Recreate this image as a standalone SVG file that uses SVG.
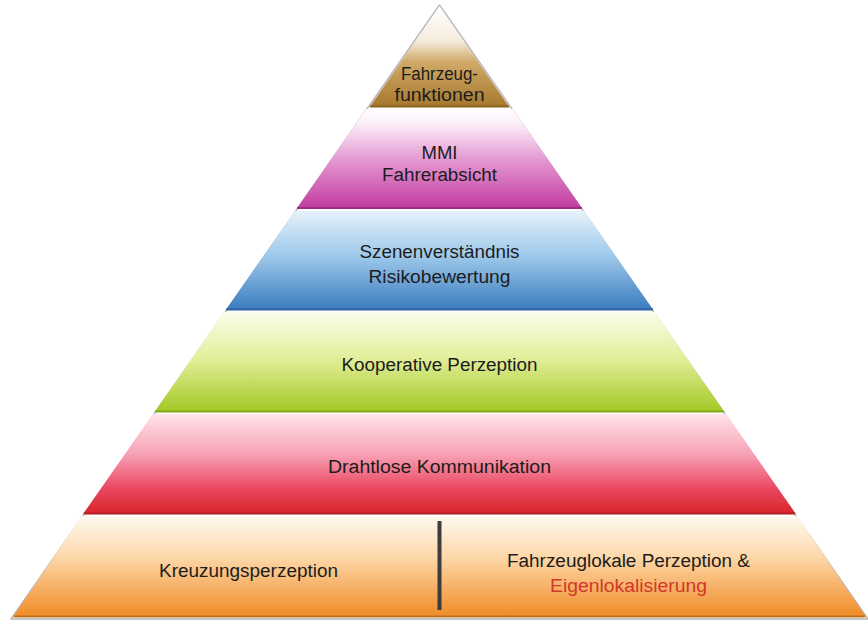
<svg xmlns="http://www.w3.org/2000/svg" width="868" height="622" viewBox="0 0 868 622">
  <defs>
    <linearGradient id="gBrown" x1="0" y1="0" x2="0" y2="1">
      <stop offset="0" stop-color="#ffffff"/>
      <stop offset="0.35" stop-color="#f4ecdc"/>
      <stop offset="0.55" stop-color="#d0aa68"/>
      <stop offset="1" stop-color="#a6782d"/>
    </linearGradient>
    <linearGradient id="gMagenta" x1="0" y1="0" x2="0" y2="1">
      <stop offset="0" stop-color="#ffffff"/>
      <stop offset="0.15" stop-color="#fbeef8"/>
      <stop offset="0.5" stop-color="#e59ad3"/>
      <stop offset="1" stop-color="#c03a9e"/>
    </linearGradient>
    <linearGradient id="gBlue" x1="0" y1="0" x2="0" y2="1">
      <stop offset="0" stop-color="#e6f1fa"/>
      <stop offset="0.45" stop-color="#9ec9ea"/>
      <stop offset="1" stop-color="#3a7bbf"/>
    </linearGradient>
    <linearGradient id="gGreen" x1="0" y1="0" x2="0" y2="1">
      <stop offset="0" stop-color="#fbfdec"/>
      <stop offset="0.45" stop-color="#e3ef9c"/>
      <stop offset="1" stop-color="#a3c925"/>
    </linearGradient>
    <linearGradient id="gRed" x1="0" y1="0" x2="0" y2="1">
      <stop offset="0" stop-color="#ffe3e9"/>
      <stop offset="0.4" stop-color="#f7a2b5"/>
      <stop offset="0.75" stop-color="#ea4660"/>
      <stop offset="1" stop-color="#d8262a"/>
    </linearGradient>
    <linearGradient id="gOrange" x1="0" y1="0" x2="0" y2="1">
      <stop offset="0" stop-color="#fff9f0"/>
      <stop offset="0.4" stop-color="#fdd8aa"/>
      <stop offset="1" stop-color="#f08b25"/>
    </linearGradient>
  </defs>
  <style>
    .outline { fill: none; stroke: #b4b4b4; stroke-width: 1.4; stroke-linejoin: round; }
    .label { font-family: "Liberation Sans", Arial, sans-serif; font-size: 18px; fill: #1c1c1c; text-anchor: middle; }
    .accent { fill: #d2382a; }
    .edge { stroke-width: 2; fill: none; }
  </style>

  <rect width="868" height="622" fill="#ffffff"/>

  <!-- outer silhouette of the pyramid -->
  <path class="outline" d="M439.5,5 L11,619 L868,619 Z"/>

  <!-- top: vehicle functions -->
  <g id="layer-fahrzeugfunktionen">
    <path d="M439.5,6 L369.7,107 L509.3,107 Z" fill="url(#gBrown)"/>
    <line class="edge" x1="370" y1="106.5" x2="509" y2="106.5" stroke="#8b6222"/>
    <text class="label" x="439.5" y="80" textLength="77" lengthAdjust="spacingAndGlyphs">Fahrzeug-</text>
    <text class="label" x="439.5" y="101" textLength="90" lengthAdjust="spacingAndGlyphs">funktionen</text>
  </g>

  <!-- MMI / driver intent -->
  <g id="layer-mmi">
    <path d="M366.3,109 L512.7,109 L582.2,208.5 L296.8,208.5 Z" fill="url(#gMagenta)"/>
    <line class="edge" x1="297" y1="208" x2="582" y2="208" stroke="#a12a82"/>
    <text class="label" x="439.5" y="159" textLength="36" lengthAdjust="spacingAndGlyphs">MMI</text>
    <text class="label" x="439.5" y="181" textLength="115" lengthAdjust="spacingAndGlyphs">Fahrerabsicht</text>
  </g>

  <!-- scene understanding / risk assessment -->
  <g id="layer-szenenverstaendnis">
    <path d="M294.9,211 L584.1,211 L653.3,310 L225.7,310 Z" fill="url(#gBlue)"/>
    <line class="edge" x1="226" y1="309.5" x2="653" y2="309.5" stroke="#2f6298"/>
    <text class="label" x="439.5" y="258" textLength="160" lengthAdjust="spacingAndGlyphs">Szenenverständnis</text>
    <text class="label" x="439.5" y="283" textLength="142" lengthAdjust="spacingAndGlyphs">Risikobewertung</text>
  </g>

  <!-- cooperative perception -->
  <g id="layer-kooperative-perzeption">
    <path d="M224.3,312 L654.7,312 L724.6,412 L154.4,412 Z" fill="url(#gGreen)"/>
    <line class="edge" x1="155" y1="411.5" x2="724" y2="411.5" stroke="#86a61c"/>
    <text class="label" x="439.5" y="371" textLength="196" lengthAdjust="spacingAndGlyphs">Kooperative Perzeption</text>
  </g>

  <!-- wireless communication -->
  <g id="layer-drahtlose-kommunikation">
    <path d="M153,414 L726,414 L795.9,514 L83.1,514 Z" fill="url(#gRed)"/>
    <line class="edge" x1="84" y1="513.5" x2="795" y2="513.5" stroke="#b21e22"/>
    <text class="label" x="439.5" y="473" textLength="223" lengthAdjust="spacingAndGlyphs">Drahtlose Kommunikation</text>
  </g>

  <!-- base: intersection perception | local vehicle perception & self-localisation -->
  <g id="layer-basis">
    <path d="M81.7,516 L797.3,516 L866,617 L13,617 Z" fill="url(#gOrange)"/>
    <line class="edge" x1="14" y1="616.5" x2="865" y2="616.5" stroke="#c4711e"/>
    <rect x="437.5" y="521" width="4" height="89" fill="#3c3c3c"/>
    <text class="label" x="248.5" y="577" textLength="179" lengthAdjust="spacingAndGlyphs">Kreuzungsperzeption</text>
    <text class="label" x="628.5" y="567" textLength="243" lengthAdjust="spacingAndGlyphs">Fahrzeuglokale Perzeption &amp;</text>
    <text class="label accent" x="628.5" y="592" textLength="157" lengthAdjust="spacingAndGlyphs">Eigenlokalisierung</text>
  </g>
</svg>
